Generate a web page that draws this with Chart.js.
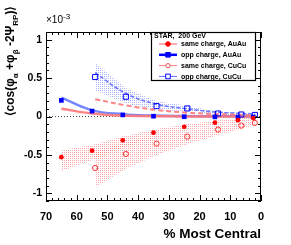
<!DOCTYPE html>
<html>
<head>
<meta charset="utf-8">
<script src="https://cdn.jsdelivr.net/npm/chart.js@4.4.1/dist/chart.umd.min.js"></script>
<style>
  html, body { margin: 0; padding: 0; background: #fff; }
  canvas { display: block; }
</style>
</head>
<body>
<canvas id="chart" width="291" height="245"></canvas>
<script>
// centrality bins (% most central)
const centAu = [65, 55, 45, 35, 25, 15, 7.5, 2.5];
const centCu = [54, 44, 34, 24, 14, 6.4, 2];

// data points, units of 1e-3
const sameAu = [-0.53, -0.445, -0.31, -0.21, -0.135, -0.08, -0.048, -0.02];
const oppAu = [0.21, 0.07, 0.021, 0.004, -0.003, -0.005, -0.008, -0.006];
const sameCu = [-0.67, -0.488, -0.353, -0.262, -0.17, -0.118, -0.083];
const oppCu = [0.514, 0.257, 0.135, 0.105, 0.039, 0.026, 0.02];

// model curves
const curveSameAu = [0.1, 0.04, 0.012, 0.004, 0.001, 0, 0, 0];
const curveOppAu = [0.245, 0.08, 0.03, 0.012, 0.006, 0.003, 0.002, 0.001];
const curveSameCu = [0.225, 0.145, 0.085, 0.05, 0.03, 0.02, 0.015];
const curveOppCu = [0.57, 0.3, 0.16, 0.1, 0.055, 0.04, 0.03];

// systematic bands
const bandSameAuHi = [-0.44, -0.37, -0.26, -0.17, -0.105, -0.055, -0.03, -0.01];
const bandSameAuLo = [-0.71, -0.57, -0.4, -0.28, -0.19, -0.12, -0.08, -0.05];
const bandSameCuHi = [-0.45, -0.34, -0.26, -0.19, -0.12, -0.085, -0.055];
const bandSameCuLo = [-0.92, -0.68, -0.5, -0.36, -0.24, -0.16, -0.11];
const bandOppCuHi = [0.7, 0.37, 0.2, 0.14, 0.065, 0.045, 0.035];
const bandOppCuLo = [0.34, 0.17, 0.08, 0.07, 0.02, 0.012, 0.008];

const xTicks = [0, 10, 20, 30, 40, 50, 60, 70];
const yTicks = [-1, -0.5, 0, 0.5, 1];

const pts = (xs, ys) => xs.map((x, i) => ({ x: x, y: ys[i] }));

function dots(color) {
  const c = document.createElement('canvas');
  c.width = 2; c.height = 2;
  const g = c.getContext('2d');
  g.fillStyle = color;
  g.fillRect(0, 0, 1, 1);
  return g.createPattern(c, 'repeat');
}

const RED = '#ff0000';
const BLUE = '#0000ff';
const pinkDots = dots('rgba(255,90,90,0.55)');
const blueDots = dots('rgba(100,120,255,0.55)');

const legendItems = [
  { label: 'same charge, AuAu', color: RED, line: 'rgba(255,90,90,1)', lw: 1, style: 'circle', fill: true },
  { label: 'opp charge, AuAu', color: BLUE, line: BLUE, lw: 2.5, style: 'rect', fill: true },
  { label: 'same charge, CuCu', color: '#ff5050', line: '#ff8080', lw: 1, style: 'circle', fill: false },
  { label: 'opp charge, CuCu', color: BLUE, line: '#6070ff', lw: 1, style: 'rect', fill: false }
];

const FONT = '"Liberation Sans", Arial, sans-serif';

const decor = {
  id: 'decor',
  afterDraw(chart) {
    const { ctx, chartArea: a, scales: { x, y } } = chart;
    ctx.save();
    // frame
    ctx.strokeStyle = '#000';
    ctx.lineWidth = 1;
    ctx.strokeRect(a.left + 0.5, a.top + 0.5, a.right - a.left - 1, a.bottom - a.top - 1);
    // ticks
    ctx.beginPath();
    for (let v = 0; v <= 70; v += 2) {
      const px = Math.round(x.getPixelForValue(v)) + 0.5;
      const len = v % 10 === 0 ? 6 : 3;
      ctx.moveTo(px, a.bottom); ctx.lineTo(px, a.bottom - len);
      ctx.moveTo(px, a.top); ctx.lineTo(px, a.top + len);
    }
    for (let k = -11; k <= 11; k++) {
      const v = k / 10;
      const py = Math.round(y.getPixelForValue(v)) + 0.5;
      const len = k % 5 === 0 ? 6 : 3;
      ctx.moveTo(a.left, py); ctx.lineTo(a.left + len, py);
      ctx.moveTo(a.right, py); ctx.lineTo(a.right - len, py);
    }
    ctx.stroke();

    // exponent
    ctx.fillStyle = '#000';
    ctx.font = '10px ' + FONT;
    ctx.textBaseline = 'alphabetic';
    ctx.textAlign = 'left';
    ctx.fillText('\u00d710', a.left, a.top - 9);
    const w10 = ctx.measureText('\u00d710').width;
    ctx.font = '8px ' + FONT;
    ctx.fillText('-3', a.left + w10, a.top - 13);

    // x title
    ctx.font = 'bold 13.5px ' + FONT;
    ctx.textAlign = 'right';
    ctx.fillText('% Most Central', a.right, 238);

    // y title, rotated
    const big = 'bold 12px ' + FONT;
    const small = 'bold 8px ' + FONT;
    const parts = [
      ['\u27e8cos(\u03c6', big, 0], ['\u03b1', small, 4], [' +\u03c6', big, 0], ['\u03b2', small, 4],
      [' -2\u03a8', big, 0], ['RP', small, 4], [')\u27e9', big, 0]
    ];
    let total = 0;
    parts.forEach(([t, f]) => { ctx.font = f; total += ctx.measureText(t).width; });
    ctx.save();
    ctx.translate(14, 61 + total / 2);
    ctx.rotate(-Math.PI / 2);
    ctx.textAlign = 'left';
    let cx = 0;
    parts.forEach(([t, f, dy]) => {
      ctx.font = f;
      ctx.fillText(t, cx, dy);
      cx += ctx.measureText(t).width;
    });
    ctx.restore();

    // legend
    const lx = 151, ly = 32, lw = 104, lh = 48;
    ctx.fillStyle = '#fff';
    ctx.fillRect(lx, ly, lw, lh);
    ctx.strokeStyle = '#000';
    ctx.lineWidth = 1.2;
    ctx.strokeRect(lx + 0.5, ly + 0.5, lw, lh);
    ctx.fillStyle = '#000';
    ctx.font = 'bold 7px ' + FONT;
    ctx.textAlign = 'left';
    ctx.textBaseline = 'middle';
    ctx.fillText('STAR,  200 GeV', lx + 3, ly + 4.5);
    legendItems.forEach((it, i) => {
      const yy = ly + 12 + i * 10.8;
      ctx.strokeStyle = it.line;
      ctx.lineWidth = it.lw;
      ctx.beginPath();
      ctx.moveTo(lx + 8, yy); ctx.lineTo(lx + 26, yy);
      ctx.stroke();
      ctx.lineWidth = 1;
      ctx.strokeStyle = it.color;
      ctx.fillStyle = it.fill ? it.color : '#fff';
      ctx.beginPath();
      if (it.style === 'circle') ctx.arc(lx + 17, yy, it.fill ? 2.3 : 2.1, 0, Math.PI * 2);
      else ctx.rect(lx + 17 - 2.3, yy - 2.3, 4.6, 4.6);
      ctx.fill();
      ctx.stroke();
      ctx.fillStyle = '#000';
      ctx.fillText(it.label, lx + 30, yy + 0.5);
    });
    ctx.restore();
  }
};

new Chart(document.getElementById('chart'), {
  type: 'scatter',
  data: {
    datasets: [
      { data: pts(centAu, sameAu), pointStyle: 'circle', pointRadius: 2.4, backgroundColor: RED, borderColor: RED, borderWidth: 0 },
      { data: pts(centAu, oppAu), pointStyle: 'rect', pointRadius: 3.3, backgroundColor: BLUE, borderColor: BLUE, borderWidth: 0 },
      { data: pts(centCu, sameCu), pointStyle: 'circle', pointRadius: 2.6, backgroundColor: 'rgba(0,0,0,0)', borderColor: '#ff3030', borderWidth: 1 },
      { data: pts(centCu, oppCu), pointStyle: 'rect', pointRadius: 3.6, backgroundColor: 'rgba(0,0,0,0)', borderColor: BLUE, borderWidth: 1 },
      { data: pts(centAu, curveSameAu), showLine: true, pointRadius: 0, borderColor: 'rgba(255,120,120,0.9)', borderWidth: 2.5, tension: 0.4 },
      { data: pts(centAu, curveOppAu), showLine: true, pointRadius: 0, borderColor: 'rgba(100,120,255,0.9)', borderWidth: 2.5, tension: 0.4 },
      { data: pts(centCu, curveSameCu), showLine: true, pointRadius: 0, borderColor: 'rgba(255,120,120,0.9)', borderWidth: 2, borderDash: [5, 3], tension: 0.4 },
      { data: pts(centCu, curveOppCu), showLine: true, pointRadius: 0, borderColor: 'rgba(90,100,255,0.9)', borderWidth: 1.5, borderDash: [4, 2], tension: 0.4 },
      { data: [{ x: 70, y: 0 }, { x: 0, y: 0 }], showLine: true, pointRadius: 0, borderColor: '#444', borderWidth: 1, borderDash: [1, 2] },
      { data: pts(centAu, bandSameAuHi), showLine: true, pointRadius: 0, borderWidth: 0, borderColor: 'rgba(0,0,0,0)' },
      { data: pts(centAu, bandSameAuLo), showLine: true, pointRadius: 0, borderWidth: 0, borderColor: 'rgba(0,0,0,0)', backgroundColor: pinkDots, fill: 9 },
      { data: pts(centCu, bandSameCuHi), showLine: true, pointRadius: 0, borderWidth: 0, borderColor: 'rgba(0,0,0,0)' },
      { data: pts(centCu, bandSameCuLo), showLine: true, pointRadius: 0, borderWidth: 0, borderColor: 'rgba(0,0,0,0)', backgroundColor: pinkDots, fill: 11 },
      { data: pts(centCu, bandOppCuHi), showLine: true, pointRadius: 0, borderWidth: 0, borderColor: 'rgba(0,0,0,0)' },
      { data: pts(centCu, bandOppCuLo), showLine: true, pointRadius: 0, borderWidth: 0, borderColor: 'rgba(0,0,0,0)', backgroundColor: blueDots, fill: 13 }
    ]
  },
  options: {
    responsive: false,
    animation: false,
    layout: { padding: { left: 0, right: 30, top: 32, bottom: 0 } },
    plugins: { legend: { display: false }, tooltip: { enabled: false } },
    scales: {
      x: {
        type: 'linear', min: 0, max: 70, reverse: true,
        grid: { display: false, drawTicks: false }, border: { display: false },
        afterBuildTicks: s => { s.ticks = xTicks.map(v => ({ value: v })); },
        afterFit: s => { s.height = 44; },
        ticks: { padding: 9, color: '#000', maxRotation: 0, autoSkip: false,
          font: { family: FONT, size: 11, weight: 'bold' } }
      },
      y: {
        type: 'linear', min: -1.1, max: 1.1,
        grid: { display: false, drawTicks: false }, border: { display: false },
        afterBuildTicks: s => { s.ticks = yTicks.map(v => ({ value: v })); },
        afterFit: s => { s.width = 46; },
        ticks: { padding: 4, color: '#000', autoSkip: false,
          callback: v => String(v),
          font: { family: FONT, size: 10.5, weight: 'bold' } }
      }
    }
  },
  plugins: [decor]
});
</script>
</body>
</html>
